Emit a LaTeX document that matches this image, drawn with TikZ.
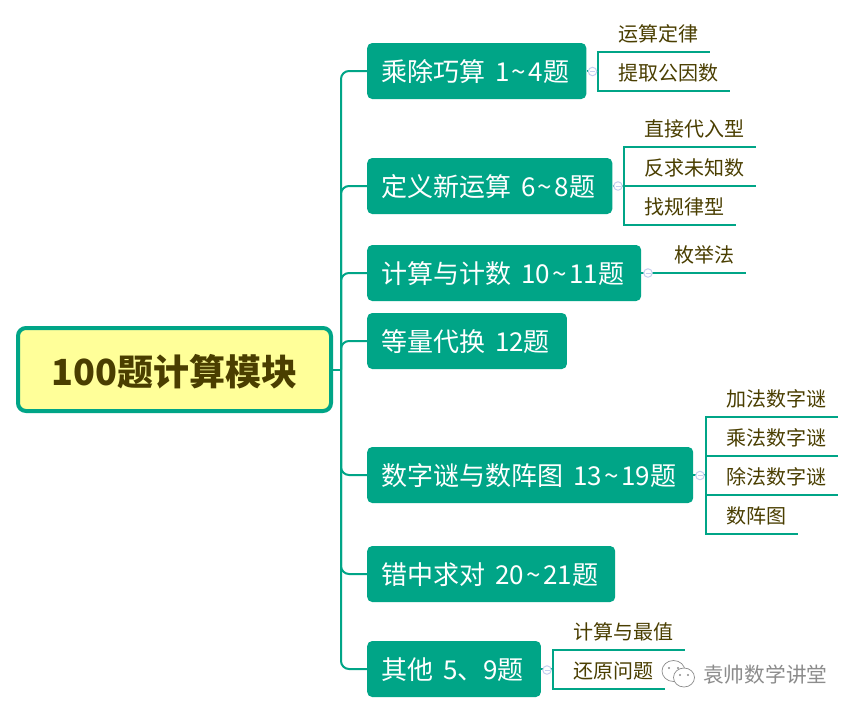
\documentclass[tikz,border=0pt]{standalone}
\usepackage{fontspec}
\setmainfont{Noto Sans CJK SC}
\usepackage{tikz}
\definecolor{mainColor}{RGB}{0, 165, 135}
\definecolor{rootFill}{RGB}{255, 255, 153}
\definecolor{inkColor}{RGB}{74, 62, 0}
\definecolor{markColor}{RGB}{197, 207, 239}
\definecolor{stampColor}{RGB}{140, 140, 140}
\newcommand{\wgap}{\kern3.5pt}
\newcommand{\tld}{\kern2.5pt\textasciitilde\kern2.5pt}

\begin{document}
\begin{tikzpicture}[
  x=1pt, y=-1pt,
  rootbox/.style={draw=mainColor, line width=4pt, fill=rootFill, rounded corners=8pt,
    minimum width=313pt, minimum height=83pt, inner sep=0pt, text=inkColor,
    text height=36pt, text depth=3.6pt, font=\fontsize{36}{36}\selectfont\bfseries},
  branch/.style={fill=mainColor, rounded corners=5pt, anchor=west, minimum height=56pt,
    inner ysep=0pt, inner xsep=14.5pt, text=white, text height=26pt, text depth=4.2pt,
    font=\fontsize{26}{26}\selectfont, execute at end node=\kern2.5pt},
  leaf/.style={anchor=south west, inner ysep=0pt, inner xsep=12pt, text height=16pt,
    text depth=10.4pt, text=inkColor, font=\fontsize{20}{20}\selectfont},
  marker/.style={circle, draw=markColor, fill=white, line width=1pt, minimum size=8.5pt,
    inner sep=0pt, path picture={\draw[markColor, line width=1pt]
      (path picture bounding box.center) +(-2.5pt,0) -- +(2.5pt,0);}},
  link/.style={draw=mainColor, line width=2pt},
  stamp/.style={stampColor, line width=0.7pt}
]
\fill[white] (0,0) rectangle (855,713);

\node[rootbox] (root) at (174.5,369.5) {100题计算模块};

\node[branch] (b1) at (367,71) {乘除巧算 \wgap 1\tld 4题};
\node[branch] (b2) at (367,186) {定义新运算 \wgap 6\tld 8题};
\node[branch] (b3) at (367,273) {计算与计数 \wgap 10\tld 11题};
\node[branch] (b4) at (367,341) {等量代换 \wgap 12题};
\node[branch] (b5) at (367,475) {数字谜与数阵图 \wgap 13\tld 19题};
\node[branch] (b6) at (367,574) {错中求对 \wgap 20\tld 21题};
\node[branch] (b7) at (367,669) {其他 \wgap 5、9题};

\coordinate (trunk) at (341,369.5);
\draw[link] (root.east) -- (trunk);
\foreach \name in {b1,b2,b3,b4,b5,b6,b7}
  \draw[link, rounded corners=8pt] (trunk) |- (\name.west);

\coordinate (f1) at (598,71);
\coordinate (f2) at (624,186);
\coordinate (f3) at (654,273);
\coordinate (f5) at (706,475);
\coordinate (f7) at (553,669);

\node[leaf] (s11) at (606,52) {运算定律};
\node[leaf] (s12) at (606,91) {提取公因数};
\node[leaf] (s21) at (632,147) {直接代入型};
\node[leaf] (s22) at (632,186) {反求未知数};
\node[leaf] (s23) at (632,225) {找规律型};
\node[leaf] (s31) at (662,273) {枚举法};
\node[leaf] (s51) at (714,417) {加法数字谜};
\node[leaf] (s52) at (714,456) {乘法数字谜};
\node[leaf] (s53) at (714,495) {除法数字谜};
\node[leaf] (s54) at (714,534) {数阵图};
\node[leaf] (s71) at (561,650) {计算与最值};
\node[leaf] (s72) at (561,689) {还原问题};

\foreach \fork/\subs in {f1/{s11,s12}, f2/{s21,s22,s23}, f3/{s31},
    f5/{s51,s52,s53,s54}, f7/{s71,s72}}
  \foreach \sub in \subs
    \draw[link] (\fork) |- (\sub.south east);

\foreach \name/\fork in {b1/f1, b2/f2, b3/f3, b5/f5, b7/f7}
  \draw[link] (\name.east) -- (\fork);

\node[marker] (m1) at (592.5,71.5) {};
\node[marker] (m2) at (618,186) {};
\node[marker] (m3) at (648,273) {};
\node[marker] (m5) at (700,475.5) {};
\node[marker] (m7) at (547,670) {};

\draw[stamp] (673.5,671) ellipse (11.5pt and 10.5pt);
\draw[stamp, fill=white] (684,677.5) ellipse (10.5pt and 9.5pt);
\fill[stampColor] (669,668) circle (1.2pt) (678,668) circle (1.2pt)
  (680,675) circle (1.2pt) (688,675) circle (1.2pt);
\node[text=stampColor, font=\fontsize{20.7}{20.7}\selectfont, inner sep=0pt, anchor=west]
  (mark) at (703,675) {袁帅数学讲堂};
\end{tikzpicture}
\end{document}
